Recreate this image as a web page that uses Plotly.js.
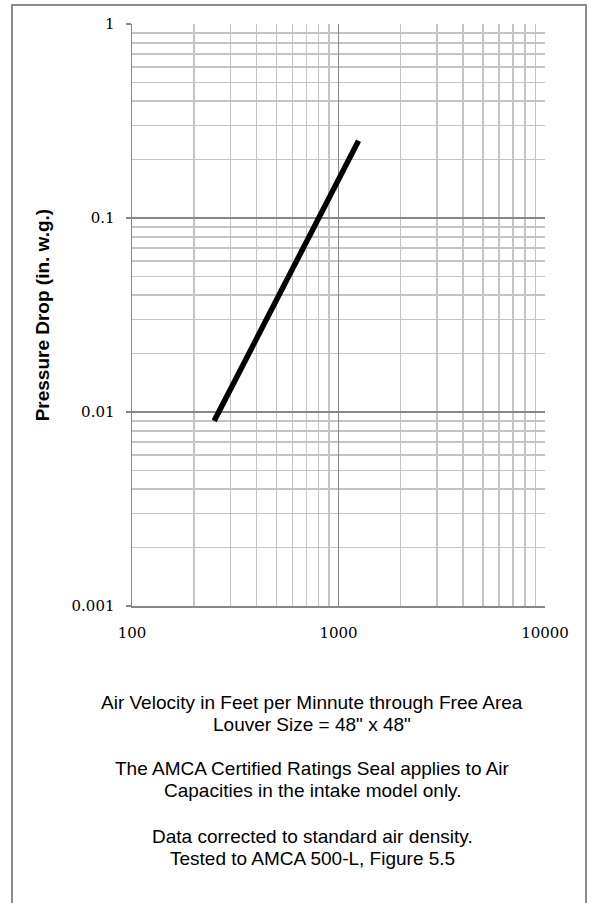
<!DOCTYPE html>
<html>
<head>
<meta charset="utf-8">
<script src="https://cdn.plot.ly/plotly-3.0.1.min.js"></script>
<style>
  html, body { margin: 0; padding: 0; background: #ffffff; }
  #wrap { position: relative; width: 594px; height: 903px; overflow: hidden; }
  #chart { position: absolute; left: 0; top: 0; width: 594px; height: 903px; }
  #frame { position: absolute; left: 11px; top: 4px; width: 572px; height: 960px;
           border: 2px solid #8c8c8c; pointer-events: none; }
</style>
</head>
<body>
<div id="wrap">
  <div id="chart"></div>
  <div id="frame"></div>
</div>
<script>
// Data
const airVelocity = [250, 500, 750, 1000, 1250];          // ft/min
const pressureDrop = [0.009, 0.0375, 0.088, 0.16, 0.25];  // in. w.g.

const xTickVals = [100, 1000, 10000];
const xTickText = ['100', '1000', '10000'];
const yTickVals = [0.001, 0.01, 0.1, 1];
const yTickText = ['0.001', '0.01', '0.1', '1'];

const yAxisTitle = 'Pressure Drop (in. w.g.)';
const noteLines = [
  'Air Velocity in Feet per Minnute through Free Area',
  'Louver Size = 48" x 48"',
  'The AMCA Certified Ratings Seal applies to Air',
  'Capacities in the intake model only.',
  'Data corrected to standard air density.',
  'Tested to AMCA 500-L, Figure 5.5'
];
const noteLinePx = [702.7, 725, 769, 791.6, 837, 859.5];

// Layout geometry
const W = 594, H = 903;
const plotL = 131.7, plotR = 545, plotT = 24, plotB = 606.5;
const plotW = plotR - plotL, plotH = plotB - plotT;
const toPaperY = px => (plotB - px) / plotH;
const toPaperX = px => (px - plotL) / plotW;

const majorGrid = '#878787';
const minorGrid = '#c4c4c4';
const tickFont = { family: 'DejaVu Serif, Liberation Serif, serif', size: 15, color: '#000000' };

const traces = [{
  x: airVelocity,
  y: pressureDrop,
  type: 'scatter',
  mode: 'lines',
  line: { color: '#000000', width: 5.5 },
  hoverinfo: 'x+y',
  showlegend: false
}];

const annotations = noteLines.map((t, i) => ({
  text: t,
  xref: 'paper', yref: 'paper',
  x: toPaperX(312), y: toPaperY(noteLinePx[i]),
  xanchor: 'center', yanchor: 'middle',
  showarrow: false,
  font: { family: 'Liberation Sans, Arial, sans-serif', size: 19, color: '#000000' }
}));

annotations.push({
  text: '<b>' + yAxisTitle + '</b>',
  xref: 'paper', yref: 'paper',
  x: toPaperX(42), y: 0.5,
  xanchor: 'center', yanchor: 'middle',
  textangle: -90,
  showarrow: false,
  font: { family: 'Liberation Sans, Arial, sans-serif', size: 19, color: '#000000' }
});

const layout = {
  width: W, height: H,
  margin: { l: plotL, r: W - plotR, t: plotT, b: H - plotB, pad: 0 },
  paper_bgcolor: '#ffffff',
  plot_bgcolor: '#ffffff',
  showlegend: false,
  xaxis: {
    type: 'log',
    range: [2, 4],
    tickvals: xTickVals,
    ticktext: xTickText,
    ticks: '',
    tickfont: tickFont,
    ticklabelstandoff: 12,
    showgrid: true,
    gridcolor: majorGrid,
    gridwidth: 1.5,
    minor: { dtick: 'D1', showgrid: true, gridcolor: minorGrid, gridwidth: 1.5, ticks: '' },
    showline: true,
    linecolor: majorGrid,
    linewidth: 1.5,
    mirror: false,
    zeroline: false,
    fixedrange: true
  },
  yaxis: {
    type: 'log',
    range: [-3, 0],
    tickvals: yTickVals,
    ticktext: yTickText,
    ticks: 'outside',
    ticklen: 5,
    tickwidth: 1.5,
    tickcolor: majorGrid,
    tickfont: tickFont,
    ticklabelstandoff: 8,
    showgrid: true,
    gridcolor: majorGrid,
    gridwidth: 1.5,
    minor: { dtick: 'D1', showgrid: true, gridcolor: minorGrid, gridwidth: 1.5, ticks: '' },
    showline: true,
    linecolor: majorGrid,
    linewidth: 1.5,
    mirror: false,
    zeroline: false,
    fixedrange: true
  },
  annotations: annotations
};

Plotly.newPlot('chart', traces, layout, { displayModeBar: false, staticPlot: true });
</script>
</body>
</html>
